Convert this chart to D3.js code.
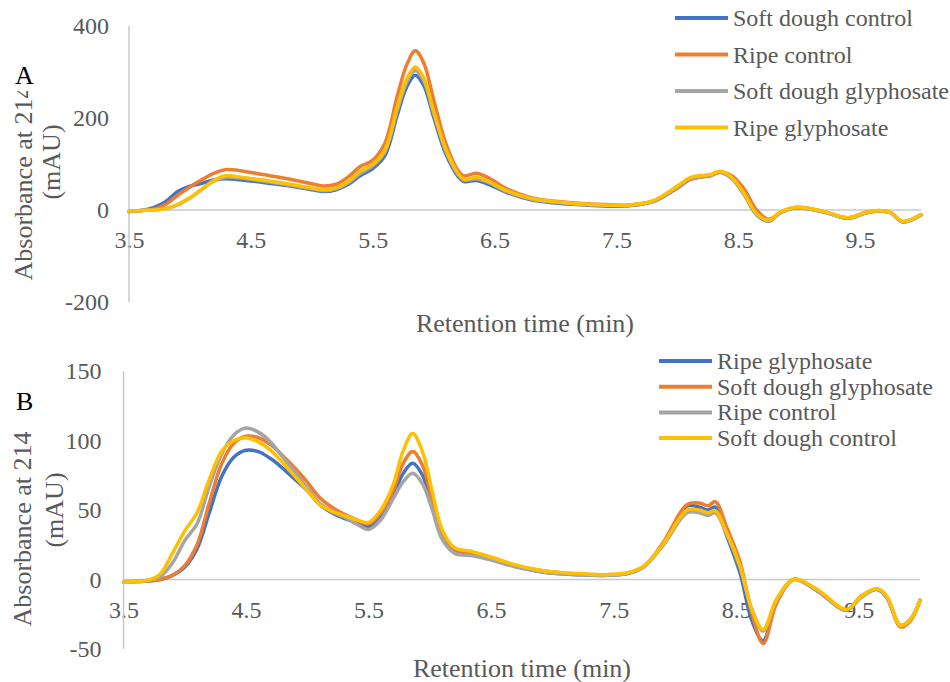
<!DOCTYPE html>
<html>
<head>
<meta charset="utf-8">
<script src="https://cdn.jsdelivr.net/npm/d3@7"></script>
<style>
  body { margin: 0; background: #fff; }
  svg text { font-family: "Liberation Serif", "Times New Roman", serif; }
</style>
</head>
<body>
<script>
// ---- panel A data (retention time in min, absorbance in mAU) ----
var timeA = [3.5, 3.6, 3.7, 3.8, 3.9, 4.0, 4.1, 4.2, 4.3, 4.4, 4.6, 4.8, 5.0, 5.1, 5.2,
  5.3, 5.4, 5.5, 5.6, 5.7, 5.78, 5.85, 5.92, 6.0, 6.1, 6.2, 6.25, 6.35, 6.45, 6.6,
  6.8, 7.0, 7.3, 7.6, 7.8, 8.0, 8.1, 8.2, 8.27, 8.35, 8.45, 8.55, 8.65, 8.75, 8.85,
  8.98, 9.2, 9.4, 9.55, 9.65, 9.75, 9.85, 10.0];
var softDoughControlA = [-3, -1, 5, 18, 40, 52, 58, 66, 68, 66, 60, 53, 44, 40, 44,
  56, 75, 90, 118, 205, 268, 293, 270, 202, 122, 73, 62, 64, 56, 38,
  22, 15, 10, 9, 18, 48, 66, 72, 75, 82, 68, 33, -10, -24, -5,
  5, -4, -18, -6, -2, -6, -26, -11];
var ripeControlA = [-3, -1, 2, 12, 32, 50, 66, 80, 88, 86, 77, 68, 57, 52, 56,
  72, 95, 108, 145, 246, 316, 346, 319, 240, 145, 86, 74, 80, 70, 46,
  27, 19, 13, 11, 19, 48, 66, 72, 74, 82, 74, 45, 0, -20, -5,
  6, -3, -17, -5, -1, -5, -25, -10];
var softDoughGlyA = [-3, -1, 0, 3, 11, 26, 45, 63, 71, 70, 63, 55, 46, 42, 46,
  59, 80, 96, 126, 215, 278, 303, 280, 210, 128, 77, 65, 68, 60, 40,
  24, 17, 11, 10, 19, 50, 68, 73, 76, 83, 69, 34, -9, -23, -5,
  5, -4, -18, -6, -2, -6, -26, -11];
var ripeGlyA = [-2, -1, 0, 3, 12, 27, 46, 65, 75, 72, 65, 57, 48, 44, 48,
  62, 85, 99, 130, 222, 285, 311, 287, 215, 132, 80, 67, 71, 62, 42,
  25, 18, 12, 11, 20, 52, 70, 75, 77, 84, 70, 35, -8, -22, -4,
  6, -3, -17, -5, -1, -5, -25, -10];
var namesA = ["Soft dough control", "Ripe control", "Soft dough glyphosate", "Ripe glyphosate"];
var yTicksA = [-200, 0, 200, 400];

// ---- panel B data ----
var timeB = [3.5, 3.6, 3.7, 3.8, 3.9, 4.0, 4.1, 4.2, 4.3, 4.4, 4.5, 4.6, 4.7, 4.8, 4.9,
  5.0, 5.1, 5.2, 5.3, 5.4, 5.5, 5.6, 5.7, 5.78, 5.86, 5.94, 6.02, 6.1, 6.2, 6.35,
  6.5, 6.7, 6.95, 7.2, 7.45, 7.62, 7.75, 7.9, 8.1, 8.2, 8.27, 8.33, 8.42, 8.53, 8.63,
  8.72, 8.83, 8.97, 9.16, 9.4, 9.52, 9.65, 9.73, 9.84, 9.92, 10.0];
var ripeGlyB = [-2, -1.5, -1, 0, 3, 9, 22, 48, 74, 88, 93, 92, 87, 80, 72,
  64, 54, 48, 44, 41, 38, 46, 60, 76, 83.6, 75, 53, 31, 20, 17.5,
  15, 9.5, 5, 3.5, 3, 4.5, 9.5, 25, 53, 52, 50, 52, 32, 5, -30,
  -44, -16, 0, -8, -22, -12, -7, -13, -33, -29, -15];
var softDoughGlyB = [-2, -1.5, -1, 0, 3, 10, 25, 55, 83, 98, 103, 102, 97, 89, 80,
  70, 59, 52, 47, 43, 40, 48, 64, 83, 92, 82, 57, 33, 22, 19,
  16, 10, 6, 4, 3.5, 4.5, 9.5, 26, 54, 55, 53, 56, 38, 13, -25,
  -46, -17, 0, -8, -22, -12, -7, -13, -34, -30, -15];
var ripeControlB = [-2, -1.5, -0.5, 2, 12, 28, 40, 67, 90, 104, 109, 106, 99, 88, 77,
  66, 55, 49, 45, 40, 36, 43, 58, 70, 76.5, 69, 50, 29, 19, 17,
  14, 9, 5, 3.5, 3, 4.5, 9.5, 24, 48, 48, 46, 48, 33, 9, -22,
  -37, -15, 0, -8, -22, -13, -7, -13, -33, -29, -15];
var softDoughControlB = [-2, -1.5, -0.5, 4, 19, 35, 48, 72, 92, 100, 102, 99, 93, 84, 74,
  64, 54, 49, 46, 43, 41, 50, 68, 92, 105, 92, 63, 36, 23, 20,
  16, 10.5, 6, 4.3, 3.5, 5, 10, 25, 50, 50, 48, 49.5, 34, 10, -22,
  -36, -14, 0, -7, -21.5, -12, -6.5, -12, -33, -29, -15];
var namesB = ["Ripe glyphosate", "Soft dough glyphosate", "Ripe control", "Soft dough control"];
var yTicksB = [-50, 0, 50, 100, 150];

var xTicks = [3.5, 4.5, 5.5, 6.5, 7.5, 8.5, 9.5];
var colors = ["#4472C4", "#ED7D31", "#A5A5A5", "#FFC000"];

var width = 950, height = 682;
var svg = d3.select("body").append("svg")
  .attr("width", width)
  .attr("height", height)
  .attr("font-family", "Liberation Serif");

function drawPanel(p) {
  var x = d3.scaleLinear().domain([3.5, 10]).range(p.xRange);
  var y = d3.scaleLinear().domain(p.yDomain).range(p.yRange);
  var g = svg.append("g");

  // y axis labels (plain hyphen for negatives, like the original)
  var yAxis = d3.axisLeft(y).tickValues(p.yTicks).tickSize(0).tickPadding(p.yPad)
    .tickFormat(function(d) { return String(d); });
  var ya = g.append("g").attr("transform", "translate(" + p.xRange[0] + ",0)").call(yAxis);
  ya.attr("font-family", null);
  ya.select(".domain").remove();
  ya.selectAll("text").attr("font-size", 24).attr("fill", "#595959");

  // x axis labels sit on the zero line
  var xAxis = d3.axisBottom(x).tickValues(xTicks).tickSize(0).tickPadding(21)
    .tickFormat(d3.format(".1f"));
  var xa = g.append("g").attr("transform", "translate(0," + y(0) + ")").call(xAxis);
  xa.attr("font-family", null);
  xa.select(".domain").remove();
  xa.selectAll("text").attr("font-size", 24).attr("fill", "#595959");

  // axis lines
  g.append("line")
    .attr("x1", p.xRange[0]).attr("x2", p.xRange[0])
    .attr("y1", y(p.yDomain[1])).attr("y2", y(p.yDomain[0]))
    .attr("stroke", "#c8c8c8").attr("stroke-width", 1.5);
  g.append("line")
    .attr("x1", p.xRange[0]).attr("x2", p.xRange[1])
    .attr("y1", y(0)).attr("y2", y(0))
    .attr("stroke", "#c8c8c8").attr("stroke-width", 1.5);

  var line = d3.line()
    .x(function(d) { return x(d[0]); })
    .y(function(d) { return y(d[1]); })
    .curve(d3.curveCatmullRom.alpha(0.5));

  p.series.forEach(function(vals, i) {
    var pts = p.time.map(function(t, k) { return [t, vals[k]]; });
    g.append("path")
      .datum(pts)
      .attr("fill", "none")
      .attr("stroke", colors[i])
      .attr("stroke-width", 3.5)
      .attr("stroke-linejoin", "round")
      .attr("stroke-linecap", "round")
      .attr("d", line);
  });

  // legend
  p.names.forEach(function(n, i) {
    var ly = p.legY + i * p.legStep;
    g.append("line")
      .attr("x1", p.legX).attr("x2", p.legX + 53)
      .attr("y1", ly).attr("y2", ly)
      .attr("stroke", colors[i]).attr("stroke-width", 4);
    g.append("text")
      .attr("x", p.legX + 58).attr("y", ly + 8)
      .attr("font-size", 24).attr("fill", "#595959")
      .text(n);
  });

  // x title
  g.append("text")
    .attr("x", p.xTitle[0]).attr("y", p.xTitle[1])
    .attr("text-anchor", "middle")
    .attr("font-size", 26).attr("fill", "#595959")
    .text("Retention time (min)");

  // y title, two lines
  g.append("text")
    .attr("transform", "translate(" + p.yTitle1[0] + "," + p.yTitle1[1] + ") rotate(-90)")
    .attr("text-anchor", "middle")
    .attr("font-size", 26).attr("fill", "#595959")
    .text("Absorbance at 214");
  g.append("text")
    .attr("transform", "translate(" + p.yTitle2[0] + "," + p.yTitle2[1] + ") rotate(-90)")
    .attr("text-anchor", "middle")
    .attr("font-size", 26).attr("fill", "#595959")
    .text("(mAU)");

  // panel letter
  g.append("text")
    .attr("x", p.letter[0]).attr("y", p.letter[1])
    .attr("font-size", 26).attr("fill", "#000")
    .text(p.letter[2]);
}

drawPanel({
  time: timeA,
  series: [softDoughControlA, ripeControlA, softDoughGlyA, ripeGlyA],
  names: namesA,
  xRange: [129, 921],
  yDomain: [-200, 400],
  yRange: [302, 26],
  yTicks: yTicksA,
  yPad: 20,
  legX: 675, legY: 18, legStep: 36.5,
  xTitle: [525, 332],
  yTitle1: [32, 183],
  yTitle2: [60, 162],
  letter: [15, 84, "A"]
});

drawPanel({
  time: timeB,
  series: [ripeGlyB, softDoughGlyB, ripeControlB, softDoughControlB],
  names: namesB,
  xRange: [123.5, 920],
  yDomain: [-50, 150],
  yRange: [649, 371],
  yTicks: yTicksB,
  yPad: 22,
  legX: 659, legY: 361, legStep: 25.7,
  xTitle: [522, 677],
  yTitle1: [31, 529],
  yTitle2: [63, 510],
  letter: [16, 410, "B"]
});

// white patch that hides the end of panel A's title, as in the original
svg.append("rect")
  .attr("x", 0).attr("y", 40).attr("width", 42).attr("height", 51)
  .attr("fill", "#fff");
svg.append("text")
  .attr("x", 15).attr("y", 84)
  .attr("font-size", 26).attr("fill", "#000")
  .text("A");
</script>
</body>
</html>
